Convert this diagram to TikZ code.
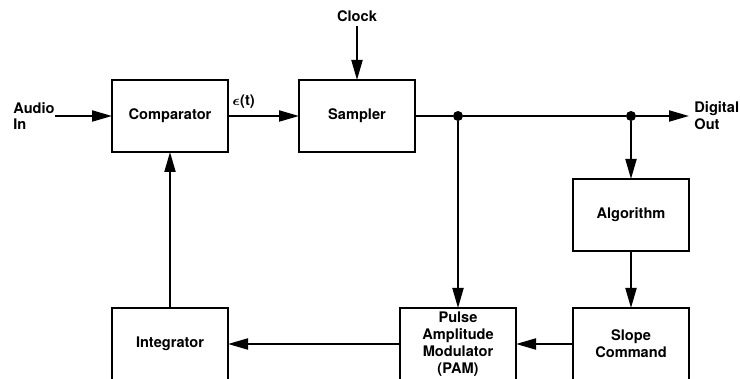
\documentclass[tikz,border=0pt]{standalone}
\usepackage{fontspec}
\setmainfont{TeX Gyre Heros}
\usetikzlibrary{arrows.meta,positioning}
\tikzset{
  block/.style={draw,line width=1.1pt,minimum width=58pt,minimum height=36pt,
    align=center,inner sep=1pt,outer sep=0pt},
  tag/.style={align=left,inner sep=0pt},
  flow/.style={-{Triangle[length=10pt,width=5.5pt]},line width=1pt},
  wire/.style={line width=1pt},
  tap/.style={circle,fill,inner sep=0pt,minimum size=5pt}
}

\begin{document}
\begin{tikzpicture}[node distance=28.5pt,font=\bfseries\fontsize{7.3}{8.4}\selectfont]
  \useasboundingbox (0,0) rectangle (370pt,-189.5pt);
  \node[block] (comparator) at (85pt,-58pt) {Comparator};
  \node[block,right=35.5pt of comparator] (sampler) {Sampler};
  \node[block,below=78pt of comparator] (integrator) {Integrator};
  \node[block,right=86pt of integrator] (pam)
    {Pulse\\Amplitude\\Modulator\\(PAM)};
  \node[block,right=of pam] (slope) {Slope\\Command};
  \node[block,above=of slope] (algorithm) {Algorithm};
  \node[tag,left=of comparator] (audio) {Audio\\In};
  \node[tag,inner sep=2pt,above=27pt of sampler] (clock) {Clock};
  \node[tap] (tap1) at (pam.north |- sampler.east) {};
  \node[tap] (tap2) at (algorithm.north |- sampler.east) {};
  \coordinate (outend) at (algorithm.east |- sampler.east);
  \node[tag,right=2.5pt of outend] (digout) {Digital\\Out};

  \draw[flow] (audio) -- (comparator);
  \draw[flow] (comparator) -- node[pos=0.22,above]{{\boldmath\(\epsilon\)}(t)} (sampler);
  \draw[flow] (clock) -- (sampler);
  \draw[wire] (sampler.east) -- (tap1) -- (tap2);
  \draw[flow] (tap2) -- (outend);
  \draw[flow] (tap1) -- (pam);
  \draw[flow] (tap2) -- (algorithm);
  \draw[flow] (algorithm) -- (slope);
  \draw[flow] (slope) -- (pam);
  \draw[flow] (pam) -- (integrator);
  \draw[flow] (integrator) -- (comparator);
\end{tikzpicture}
\end{document}
